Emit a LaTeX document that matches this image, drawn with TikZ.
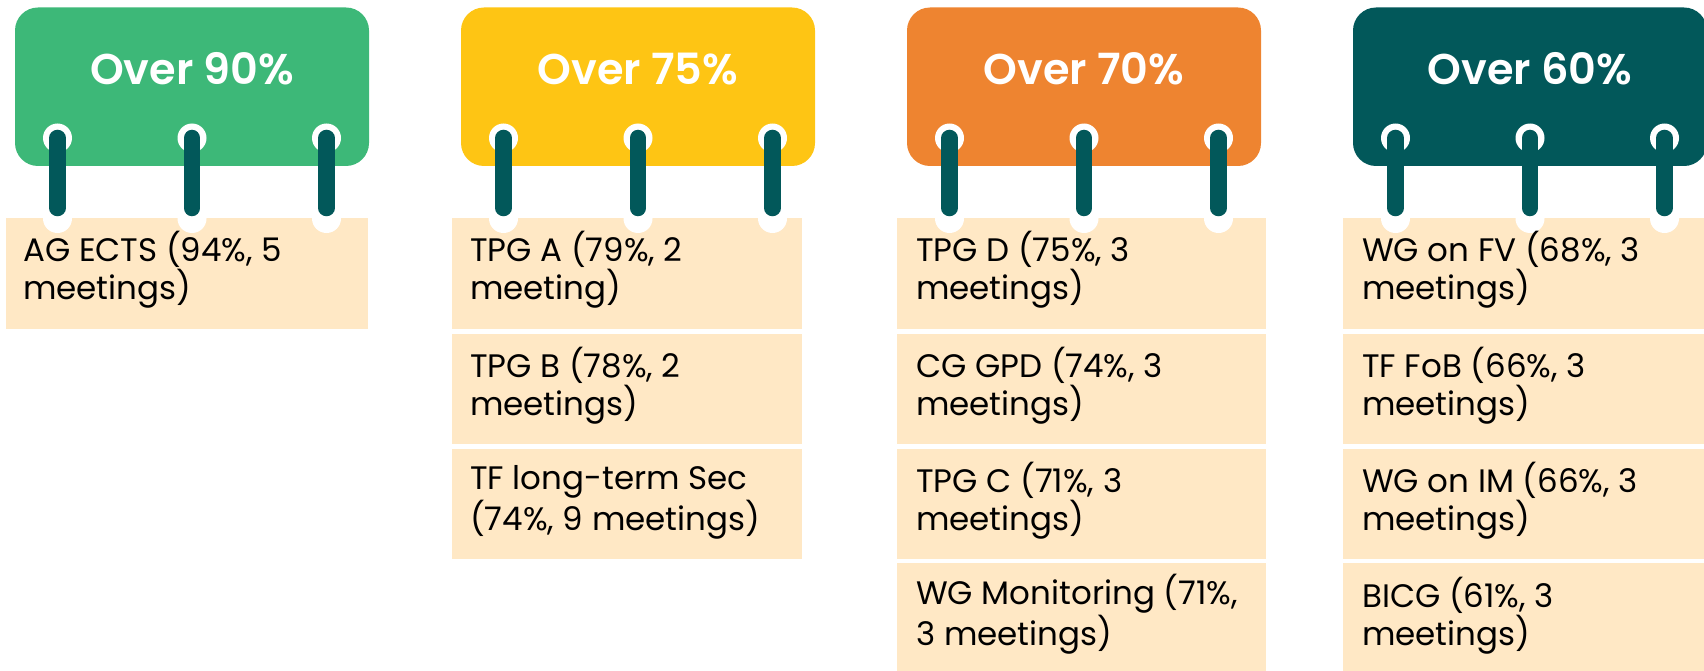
\documentclass[tikz,border=0pt]{standalone}
\usepackage{fontspec}
\setmainfont{Poppins}
\newfontfamily\headfont{Poppins SemiBold}
\definecolor{cgreen}{HTML}{3DB878}
\definecolor{cyellow}{HTML}{FEC514}
\definecolor{corange}{HTML}{EE8430}
\definecolor{cteal}{HTML}{02585A}
\definecolor{cbeige}{HTML}{FFE8C5}
\begin{document}
\begin{tikzpicture}[x=1pt,y=-1pt,
  hdrbox/.style={rounded corners=23pt},
  headtxt/.style={text=white, font=\fontsize{43}{50}\selectfont\headfont, anchor=base, inner sep=0pt},
  item/.style={anchor=base west, align=left, inner sep=0pt, font=\fontsize{32.5}{35}\selectfont, text=black},
  hole/.style={fill=white},
  ringbar/.style={draw=cteal, line width=16.5pt, line cap=round}]
\useasboundingbox (0,0) rectangle (1704,671);
\clip (0,0) rectangle (1704,671);
% header boxes
\fill[hdrbox, cgreen]  (15,7.5) rectangle (369,166);
\fill[hdrbox, cyellow] (461,7.5) rectangle (815,166);
\fill[hdrbox, corange] (907,7.5) rectangle (1261,166);
\fill[hdrbox, cteal]   (1353,7.5) rectangle (1707,166);
\node[headtxt] (h1) at (192,85) {Over 90\%};
\node[headtxt] (h2) at (638,85) {Over 75\%};
\node[headtxt] (h3) at (1084,85) {Over 70\%};
\node[headtxt] (h4) at (1530,85) {Over 60\%};
% cells
\fill[cbeige] (6,218) rectangle (368,328.5);
\foreach \t in {218,333.5,448.5} {\fill[cbeige] (452,\t) rectangle (802,\t+110.5);}
\foreach \t in {218,333.5,448.5,563} {\fill[cbeige] (897,\t) rectangle (1266,\t+110.5);}
\foreach \t in {218,333.5,448.5,563} {\fill[cbeige] (1343,\t) rectangle (1710,\t+110.5);}
% rings
\foreach \c [count=\i] in {192,638,1084,1530} {
  \foreach \d [count=\k] in {-134.5,0,134.5} {
    \coordinate (rt\i-\k) at (\c+\d,138);
    \coordinate (rb\i-\k) at (\c+\d,208);
    \fill[hole] (\c+\d,138) circle[radius=14.5pt];
    \fill[hole] (\c+\d,218.5) circle[radius=14.5pt];
    \draw[ringbar] (rt\i-\k) -- (rb\i-\k);
  }
}
% texts (anchor = baseline of the last line)
\node[item] (a1) at (23,299) {AG ECTS (94\%, 5\\meetings)};
\node[item] (b1) at (470,299) {TPG A (79\%, 2\\meeting)};
\node[item] (b2) at (470,415) {TPG B (78\%, 2\\meetings)};
\node[item] (b3) at (470,530) {TF long-term Sec\\(74\%, 9 meetings)};
\node[item] (c1) at (916,299) {TPG D (75\%, 3\\meetings)};
\node[item] (c2) at (916,415) {CG GPD (74\%, 3\\meetings)};
\node[item] (c3) at (916,530) {TPG C (71\%, 3\\meetings)};
\node[item] (c4) at (916,645) {WG Monitoring (71\%,\\3 meetings)};
\node[item] (d1) at (1362,299) {WG on FV (68\%, 3\\meetings)};
\node[item] (d2) at (1362,415) {TF FoB (66\%, 3\\meetings)};
\node[item] (d3) at (1362,530) {WG on IM (66\%, 3\\meetings)};
\node[item] (d4) at (1362,645) {BICG (61\%, 3\\meetings)};
\end{tikzpicture}
\end{document}
